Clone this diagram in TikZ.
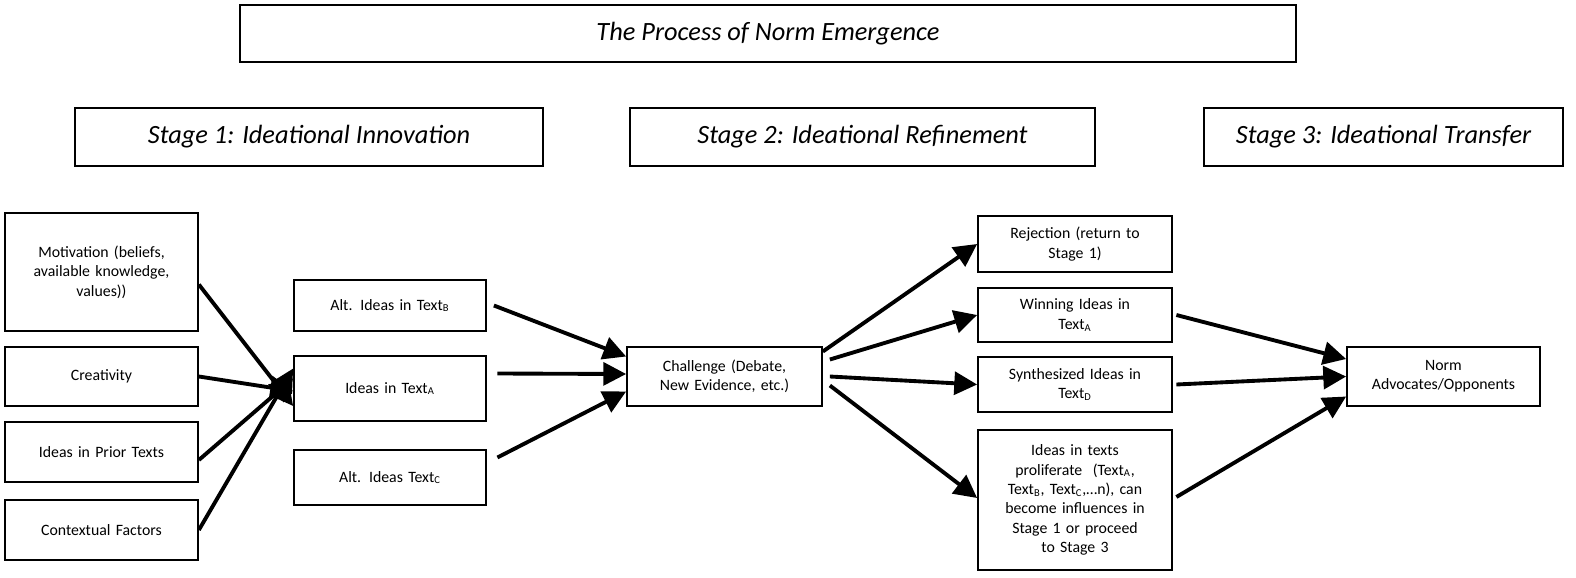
\documentclass[tikz,border=0pt]{standalone}
\usepackage{fontspec}
\setmainfont{Carlito}
\usetikzlibrary{arrows.meta}
\begin{document}
\begin{tikzpicture}[x=0.02cm,y=-0.02cm,
 box/.style={draw,line width=1pt,align=center,font=\fontsize{9}{11}\selectfont,inner sep=2pt},
 head/.style={draw,line width=1pt,font=\fontsize{15}{18}\selectfont\itshape},
 arr/.style={line width=2.2pt,-{Triangle[length=13pt,width=13pt]}}]
\useasboundingbox (0,0) rectangle (1576,578);
\newcommand{\bx}[6]{\node[#6,minimum width={(#4-#2)*0.02cm},minimum height={(#5-#3)*0.02cm},text width={(#4-#2)*0.02cm-8pt}] (#1) at ({(#2+#4)/2},{(#3+#5)/2}) {};}
\node[head,minimum width=21.12cm,minimum height=1.14cm] (t) at (768,33.5) {The Process of Norm Emergence};
\node[head,minimum width=9.36cm,minimum height=1.16cm] (s1) at (309,137) {Stage 1: Ideational Innovation};
\node[head,minimum width=9.3cm,minimum height=1.16cm] (s2) at (862.5,137) {Stage 2: Ideational Refinement};
\node[head,minimum width=7.18cm,minimum height=1.16cm] (s3) at (1383.5,137) {Stage 3: Ideational Transfer};
\tikzset{b/.style={box,minimum width=3.86cm,text width=3.5cm}}
\node[b,minimum height=2.36cm] (mot) at (101.5,272) {Motivation (beliefs,\\ available knowledge,\\ values))};
\node[b,minimum height=1.18cm] (cre) at (101.5,376.5) {Creativity};
\node[b,minimum height=1.2cm] (pri) at (101.5,452) {Ideas in Prior Texts};
\node[b,minimum height=1.2cm] (con) at (101.5,530) {Contextual Factors};
\node[b,minimum width=3.84cm,minimum height=1.02cm] (alb) at (390,305.5) {Alt. Ideas in Text$_{\mathrm{B}}$};
\node[b,minimum width=3.84cm,minimum height=1.3cm] (ida) at (390,388.5) {Ideas in Text$_{\mathrm{A}}$};
\node[b,minimum width=3.84cm,minimum height=1.1cm] (alc) at (390,477.5) {Alt. Ideas Text$_{\mathrm{C}}$};
\node[b,minimum width=3.9cm,minimum height=1.18cm] (cha) at (724.5,376.5) {Challenge (Debate,\\ New Evidence, etc.)};
\node[b,minimum width=3.88cm,minimum height=1.12cm] (rej) at (1075,244) {Rejection (return to\\ Stage 1)};
\node[b,minimum width=3.88cm,minimum height=1.08cm] (win) at (1075,315) {Winning Ideas in\\ Text$_{\mathrm{A}}$};
\node[b,minimum width=3.88cm,minimum height=1.1cm] (syn) at (1075,384.5) {Synthesized Ideas in\\ Text$_{\mathrm{D}}$};
\node[b,minimum width=3.88cm,minimum height=2.8cm] (pro) at (1075,500) {Ideas in texts\\ proliferate \ (Text$_{\mathrm{A}}$,\\ Text$_{\mathrm{B}}$, Text$_{\mathrm{C}}$,\ldots n), can\\ become influences in\\ Stage 1 or proceed\\ to Stage 3};
\node[b,minimum width=3.86cm,minimum height=1.18cm] (nor) at (1443.5,376.5) {Norm\\ Advocates/Opponents};
\coordinate (in) at (292,388);
\draw[arr] ([yshift=-0.25cm]mot.east) -- ([yshift=-0.35cm]ida.west);
\draw[arr] (cre.east) -- ([yshift=-0.05cm]ida.west);
\draw[arr] ([yshift=-0.16cm]pri.east) -- ([yshift=0.2cm]ida.west);
\draw[arr] ([yshift=0cm]con.east) -- ([yshift=0.4cm]ida.west);
\draw[arr] ([xshift=4pt]alb.east) -- ([yshift=0.4cm]cha.west);
\draw[arr] ([xshift=6pt,yshift=0.3cm]ida.east) -- ([yshift=0.05cm]cha.west);
\draw[arr] ([xshift=6pt,yshift=0.4cm]alc.east) -- ([yshift=-0.3cm]cha.west);
\draw[arr] ([yshift=0.5cm]cha.east) -- ([yshift=0cm]rej.west);
\draw[arr] ([xshift=4pt,yshift=0.34cm]cha.east) -- ([yshift=0cm]win.west);
\draw[arr] ([xshift=4pt,yshift=0cm]cha.east) -- ([yshift=0cm]syn.west);
\draw[arr] ([xshift=4pt,yshift=-0.18cm]cha.east) -- ([yshift=0.04cm]pro.west);
\draw[arr] ([xshift=2pt]win.east) -- ([yshift=0.35cm]nor.west);
\draw[arr] ([xshift=2pt]syn.east) -- ([yshift=0cm]nor.west);
\draw[arr] ([xshift=2pt,yshift=0.06cm]pro.east) -- ([yshift=-0.4cm]nor.west);
\end{tikzpicture}
\end{document}
